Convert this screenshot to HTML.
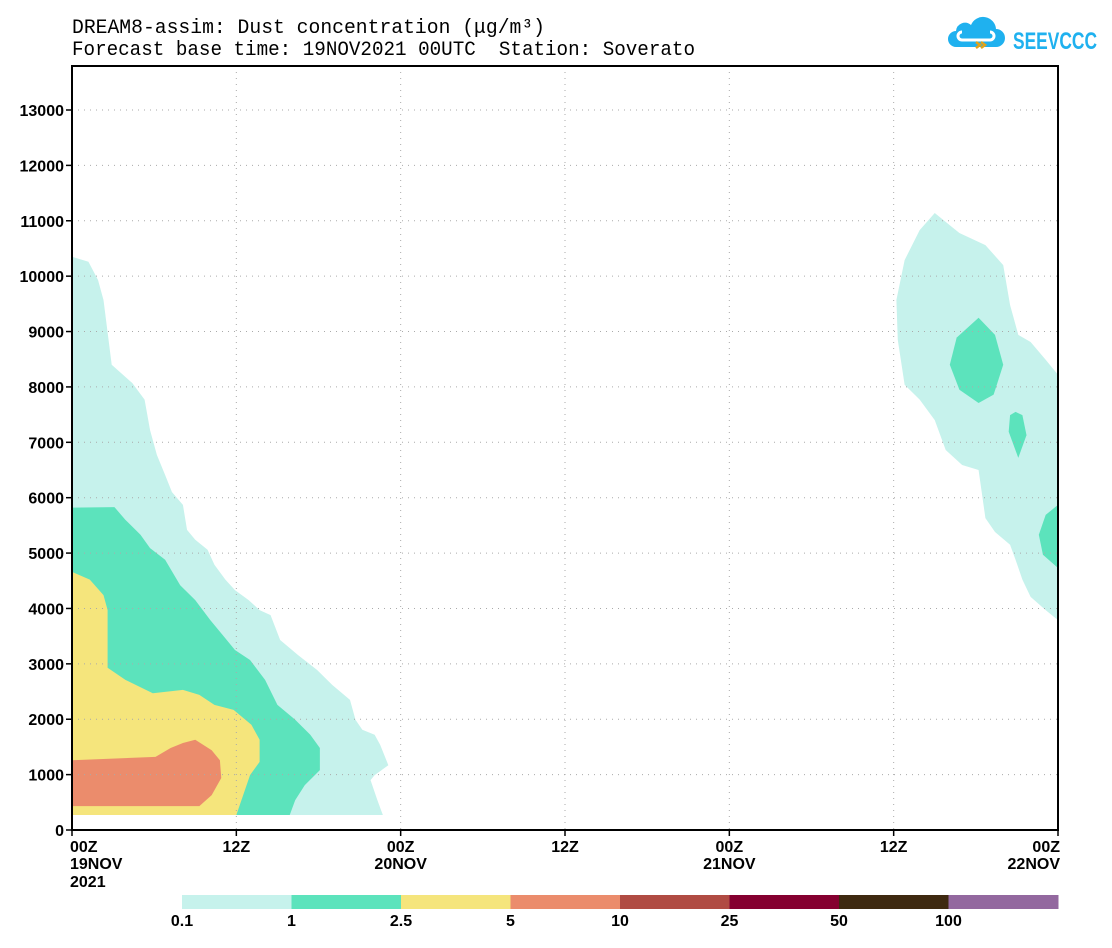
<!DOCTYPE html>
<html><head><meta charset="utf-8"><style>
body{margin:0;background:#fff;width:1112px;height:943px;overflow:hidden;font-family:"Liberation Sans",sans-serif}
</style></head><body>
<svg id="c" width="1112" height="943" xmlns="http://www.w3.org/2000/svg">
<text x="72" y="33" font-size="20" font-family="Liberation Mono, monospace" textLength="473" lengthAdjust="spacingAndGlyphs">DREAM8-assim: Dust concentration (μg/m³)</text>
<text x="72" y="55" font-size="20" font-family="Liberation Mono, monospace" textLength="623" lengthAdjust="spacingAndGlyphs" xml:space="preserve">Forecast base time: 19NOV2021 00UTC  Station: Soverato</text>
<g>
<path d="M956 47 h40 a9 9 0 0 0 0-18 a13 13 0 0 0-25-4 a9 9 0 0 0-15 6 a8 8 0 0 0 0 16z" fill="#1fb1ef"/>
<path d="M962 40 h28 a4 4 0 0 0 0-8 M962 40 a4 4 0 0 1 0-8" stroke="#fff" stroke-width="3" fill="none"/>
<path d="M976 42 l4 3 l-4 3 M981 42 l4 3 l-4 3" stroke="#e3a21a" stroke-width="2.5" fill="none"/>
<text x="1013" y="49" font-size="24" font-weight="bold" fill="#1fb1ef" textLength="84" lengthAdjust="spacingAndGlyphs">SEEVCCC</text>
</g>
<g id="plot"></g>
</svg>
<script>
const hours=[0,12,24,36,48,60,72];
const xTickLabels=["00Z","12Z","00Z","12Z","00Z","12Z","00Z"];
const xTickSub=["19NOV","","20NOV","","21NOV","","22NOV"];
const yTicks=[0,1000,2000,3000,4000,5000,6000,7000,8000,9000,10000,11000,12000,13000];
const levels=["0.1","1","2.5","5","10","25","50","100"];
const colors=["#c6f2ec","#5ce3bc","#f5e57c","#eb8c6c","#b04b43","#850030","#3e2910","#93689f"];
const cyanLeft=[[0,10350],[1.2,10260],[1.9,9930],[2.3,9570],[2.9,8400],[4.4,8070],[5.3,7770],[5.7,7220],[6.2,6770],[6.8,6410],[7.3,6100],[8.1,5870],[8.4,5420],[9.0,5240],[9.9,5060],[10.4,4790],[11.2,4520],[11.9,4330],[12.9,4150],[13.7,3970],[14.5,3880],[15.2,3430],[16.5,3160],[17.9,2890],[19.0,2620],[20.3,2350],[20.7,1990],[21.2,1810],[22.1,1720],[22.5,1540],[23.1,1170],[22.1,990],[21.8,900],[22.3,540],[22.7,270],[0,270]];
const greenLeft=[[0,5820],[3.1,5830],[3.9,5600],[5.0,5330],[5.7,5090],[6.8,4880],[7.9,4420],[9.0,4150],[10.1,3790],[11.0,3520],[11.9,3250],[13.0,3070],[14.1,2710],[15.0,2260],[16.3,1990],[17.4,1720],[18.1,1480],[18.1,1080],[17.0,810],[16.3,540],[15.9,270],[0,270]];
const yellowLeft=[[0,4660],[1.3,4520],[2.3,4240],[2.6,3970],[2.6,2930],[3.9,2710],[5.9,2470],[8.1,2530],[9.3,2440],[10.4,2260],[11.8,2170],[13.1,1900],[13.7,1630],[13.7,1230],[13.0,990],[12.5,630],[12.0,270],[0,270]];
const orangeLeft=[[0,1260],[6.1,1320],[7.2,1480],[8.1,1570],[9.0,1630],[10.2,1440],[10.8,1260],[10.9,940],[10.2,630],[9.3,430],[0,430]];
const cyanRight=[[63.0,11140],[61.9,10830],[60.8,10290],[60.2,9570],[60.3,8850],[60.8,8040],[61.9,7770],[63.0,7400],[63.8,6860],[65.0,6590],[66.2,6500],[66.7,5630],[67.4,5380],[68.5,5150],[68.9,4880],[69.4,4520],[70.0,4210],[71.1,3970],[72,3790],[72,8220],[71.1,8490],[70.0,8810],[69.1,8940],[68.5,9480],[68.0,10200],[66.7,10560],[64.8,10780],[64.1,10920]];
const greenRight1=[[66.2,9250],[67.4,8940],[68.0,8400],[67.3,7860],[66.2,7710],[64.8,7950],[64.1,8400],[64.6,8890]];
const greenRight2=[[68.9,7550],[69.4,7490],[69.7,7130],[69.1,6720],[68.4,7190],[68.5,7490]];
const greenRight3=[[72,5870],[71.1,5690],[70.6,5330],[70.9,4970],[72,4730]];

const X0=72,X1=1058,Y0=830,Y13=110;
const xs=h=>X0+(X1-X0)*h/72;
const ys=z=>Y0-(Y0-Y13)*z/13000;
const NS="http://www.w3.org/2000/svg";
const g=document.getElementById('plot');
function mk(t,a){const e=document.createElementNS(NS,t);for(const k in a)e.setAttribute(k,a[k]);g.appendChild(e);return e;}
const shapes=[[cyanLeft,0,'dust-cyan-left'],[greenLeft,1,'dust-green-left'],[yellowLeft,2,'dust-yellow-left'],[orangeLeft,3,'dust-orange-left'],[cyanRight,0,'dust-cyan-right'],[greenRight1,1,'dust-green-right-1'],[greenRight2,1,'dust-green-right-2'],[greenRight3,1,'dust-green-right-3']];
shapes.forEach(s=>{const p=mk('polygon',{points:s[0].map(q=>xs(q[0])+','+ys(q[1])).join(' '),fill:colors[s[1]]});

});
hours.forEach((h,i)=>{
 if(i>0&&i<hours.length-1){const l=mk('line',{x1:xs(h),x2:xs(h),y1:66,y2:Y0,stroke:'#aaa','stroke-dasharray':'1,5'});
 
 }
 const t=mk('line',{x1:xs(h),x2:xs(h),y1:Y0,y2:Y0+6,stroke:'#000','stroke-width':1.5});
 
 
 const a=i==0?'start':(i==hours.length-1?'end':'middle');
 const ax=i==0?X0-2:(i==hours.length-1?X1+2:xs(h));
 const tx=mk('text',{x:ax,y:852,'font-size':16,'font-weight':'bold','text-anchor':a});tx.textContent=xTickLabels[i];
 
 
 if(xTickSub[i]){const s=mk('text',{x:ax,y:869,'font-size':16,'font-weight':'bold','text-anchor':a});s.textContent=xTickSub[i];
 
 }
});
const yr=mk('text',{x:X0-2,y:887,'font-size':16,'font-weight':'bold'});yr.textContent='2021';


yTicks.forEach(z=>{
 if(z>0){const l=mk('line',{x1:X0,x2:X1,y1:ys(z),y2:ys(z),stroke:'#aaa','stroke-dasharray':'1,5'});
 
 }
 const t=mk('line',{x1:X0-6,x2:X0,y1:ys(z),y2:ys(z),stroke:'#000','stroke-width':1.5});
 
 
 const tx=mk('text',{x:64,y:ys(z)+6,'font-size':16,'font-weight':'bold','text-anchor':'end'});tx.textContent=z;
 
 
});
const fr=mk('rect',{x:X0,y:66,width:X1-X0,height:Y0-66,fill:'none',stroke:'#000','stroke-width':2});


const cw=(1058-182)/levels.length;
levels.forEach((lv,i)=>{
 const r=mk('rect',{x:182+i*cw,y:895,width:cw+0.5,height:14,fill:colors[i]});
 
 
 const t=mk('text',{x:182+i*cw,y:926,'font-size':16,'font-weight':'bold','text-anchor':'middle'});t.textContent=lv;
 
 
});
</script>
</body></html>
